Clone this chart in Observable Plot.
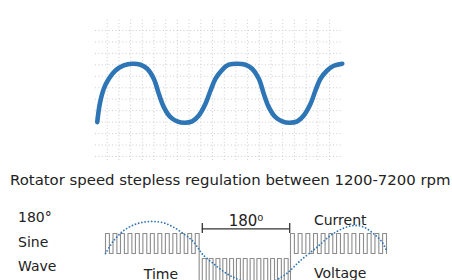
<!DOCTYPE html>
<html><head><meta charset="utf-8">
<script src="https://cdn.jsdelivr.net/npm/d3@7"></script>
<script src="https://cdn.jsdelivr.net/npm/@observablehq/plot@0.6"></script>
<style>
body{margin:0;overflow:hidden;background:#fff;font-family:"DejaVu Sans",sans-serif;color:#222}
#wrap{position:relative;width:452px;height:280px;overflow:hidden}
#top{position:absolute;left:0;top:0}
#bottom{position:absolute;left:0;top:200px}
.lbl{position:absolute;white-space:nowrap;line-height:14px;font-size:14px}
#caption{position:absolute;left:10px;top:173.4px;font-size:14.9px;line-height:15px;white-space:nowrap}
</style></head><body><div id="wrap">
<div id="top"></div>
<div id="caption">Rotator speed stepless regulation between 1200-7200 rpm</div>
<div class="lbl" style="left:18px;top:209.9px">180°</div>
<div class="lbl" style="left:18px;top:234.9px">Sine</div>
<div class="lbl" style="left:18px;top:259.2px">Wave</div>
<div id="bottom"></div>
</div>
<script>
// ---- top chart: speed wave over a dotted grid ----
const waveT = [0.15,0.37,0.71,1.14,1.71,2.42,3.14,3.85,4.42,4.98,5.41,5.84,6.41,6.98,7.63,8.26,8.83,9.4,9.83,10.26,10.83,11.39,12.11,12.82,13.39,13.96,14.38,14.81,15.38,15.96,16.58,17.24,17.8,18.38,18.8,19.23,19.8,20.37,21.09];
const waveV = [3.0,4.6,5.91,6.79,7.51,7.95,8.1,8.01,7.66,6.79,5.48,4.31,3.43,3.06,2.94,3.06,3.58,4.6,5.76,6.79,7.57,8.01,8.1,8.01,7.66,6.79,5.48,4.31,3.43,3.06,2.94,3.06,3.58,4.6,5.76,6.79,7.51,7.92,8.1];
const gridX = [1,2,3,4,5,6,7,8,9,10,11,12,13,14,15,16,17,18,19,20];
const gridY = [0,1,2,3,4,5,6,7,8,9,10,11];

// ---- bottom diagram: PWM voltage and sine current ----
const sineDeg = [0,10.6,23.4,36.3,49.1,61.9,74.7,87.5,100.3,111.1,119.5,123.9,138.7,155.9,172.9,194.7,217.8,232.8,249.8,271.2,288.2,305.3,318.1,330.9,343.7,354.4,360.9];
const sineVal = [0,0.65,1.15,1.43,1.57,1.6,1.53,1.31,0.98,0.65,0.23,-0.02,-0.52,-1.02,-1.35,-1.75,-1.35,-0.98,-0.35,0.32,0.9,1.27,1.4,1.32,0.98,0.57,0.07];
const sec1Pulses = [[0,5],[9.6,14.6],[19.2,24.2],[28.8,33.8],[38.3,43.3],[47.9,52.9],[57.5,62.5],[67.1,72.1],[76.7,81.7],[86.3,91.3],[95.8,100.8],[105.4,110.4],[115,120]];
const sec2Pulses = [[124,129],[132.8,137.8],[141.5,146.5],[150.3,155.3],[159,164],[167.8,172.8],[176.5,181.5],[185.3,190.3],[194,199],[202.8,207.8],[211.5,216.5],[220.3,225.3],[229,234]];
const sec3Pulses = [[237,242],[246.8,251.8],[256.7,261.7],[266.5,271.5],[276.3,281.3],[286.2,291.2],[296,301],[305.8,310.8],[315.7,320.7],[325.5,330.5],[335.3,340.3],[345.2,350.2],[355,360]];
const upperLevels = [0, 1];       // low, high
const lowerLevels = [-1.6, -0.25]; // low, high
const bracketDeg = [124, 236];
const labels = [
  {text: "180\u2070", deg: 180, val: 1.4, size: 15},
  {text: "Current", deg: 300.7, val: 1.45, size: 14},
  {text: "Voltage", deg: 300.7, val: -1.2, size: 14},
  {text: "Time", deg: 71, val: -1.25, size: 14}
];

const waveData = waveT.map((t, i) => ({t, v: waveV[i]}));
const sineData = sineDeg.map((d, i) => ({d, v: sineVal[i]}));

// step events for the pulse train (step-after)
const pwm = [{d: 0, v: upperLevels[0]}];
function addPulses(pulses, levels, nextLow) {
  pulses.forEach(([a, b], i) => {
    pwm.push({d: a, v: levels[1]});
    pwm.push({d: b, v: i === pulses.length - 1 ? nextLow : levels[0]});
  });
}
addPulses(sec1Pulses, upperLevels, lowerLevels[0]);
addPulses(sec2Pulses, lowerLevels, lowerLevels[0]);
addPulses(sec3Pulses, upperLevels, upperLevels[0]);

const topPlot = Plot.plot({
  width: 452, height: 165,
  marginLeft: 95, marginRight: 110, marginTop: 0, marginBottom: 0,
  x: {domain: [0, 21.11], axis: null},
  y: {domain: [-0.79, 13.62], axis: null},
  marks: [
    Plot.ruleX(gridX, {y1: -0.35, y2: 12.05, stroke: "#cdcdcd", strokeDasharray: "1,2.4"}),
    Plot.ruleY(gridY, {x1: 0, x2: 21.11, stroke: "#cdcdcd", strokeDasharray: "1,2.4"}),
    Plot.line(waveData, {x: "t", y: "v", curve: "catmull-rom", stroke: "#2e75b6", strokeWidth: 4.6, strokeLinecap: "round", strokeLinejoin: "round"})
  ]
});
document.getElementById("top").appendChild(topPlot);

const bottomPlot = Plot.plot({
  width: 452, height: 80,
  marginLeft: 105, marginRight: 66, marginTop: 0, marginBottom: 0,
  style: {fontFamily: "DejaVu Sans", color: "#222", overflow: "hidden"},
  x: {domain: [0, 360], axis: null},
  y: {domain: [-1.35, 2.65], axis: null},
  marks: [
    Plot.line(pwm, {x: "d", y: "v", curve: "step-after", stroke: "#8c8c8c", strokeWidth: 1.1}),
    Plot.line(sineData, {x: "d", y: "v", curve: "catmull-rom", stroke: "#2e75b6", strokeWidth: 1.8, strokeDasharray: "0,3.3", strokeLinecap: "round"}),
    Plot.ruleY([1.235], {x1: bracketDeg[0], x2: bracketDeg[1], stroke: "#333", strokeWidth: 1.3}),
    Plot.ruleX(bracketDeg, {y1: 1.0, y2: 1.5, stroke: "#333", strokeWidth: 1.3}),
    Plot.text(labels, {x: "deg", y: "val", text: "text", fontSize: "size", lineAnchor: "bottom", textAnchor: "middle", fill: "#222"})
  ]
});
document.getElementById("bottom").appendChild(bottomPlot);
</script>
</body></html>
